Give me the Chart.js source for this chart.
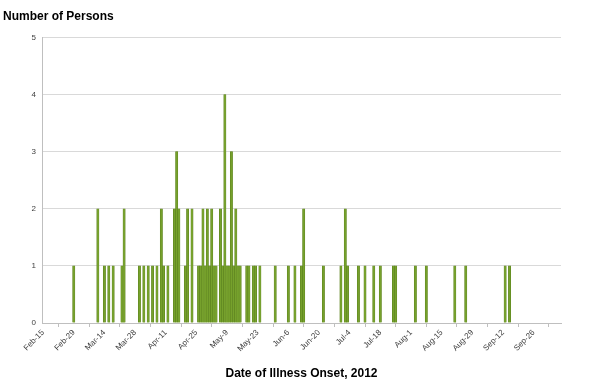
<!DOCTYPE html>
<html>
<head>
    <title>Date of Illness Onset, 2012</title>
    <script src="https://cdn.jsdelivr.net/npm/chart.js"></script>
    <style>
        body { margin: 0; background: #fff; }
        .chart-container { width: 600px; height: 389px; }
    </style>
</head>
<body>
    <div class="chart-container">
        <canvas id="onsetChart"></canvas>
    </div>
    <script>
        // days counted from Feb-15 (day 0), and persons with onset on that day
        const onsetDays = [14, 25, 28, 30, 32, 36, 37, 44, 46, 48, 50, 52, 54, 55, 57,
            60, 61, 62, 65, 66, 68, 71, 72, 73, 74, 75, 76, 77, 78, 79, 81, 82, 83, 84, 85,
            86, 87, 88, 89, 90, 93, 94, 96, 97, 99, 106, 112, 115, 118, 119, 128,
            136, 138, 139, 144, 147, 151, 154, 160, 161, 170, 175, 188, 193, 211, 213];
        const persons = [1, 2, 1, 1, 1, 1, 2, 1, 1, 1, 1, 1, 2, 1, 1,
            2, 3, 2, 1, 2, 2, 1, 1, 2, 1, 2, 1, 2, 1, 1, 2, 1, 4, 1, 1,
            3, 1, 2, 1, 1, 1, 1, 1, 1, 1, 1, 1, 1, 1, 2, 1,
            1, 2, 1, 1, 1, 1, 1, 1, 1, 1, 1, 1, 1, 1, 1];
        const tickDays = [0, 14, 28, 42, 56, 70, 84, 98, 112, 126, 140, 154, 168, 182, 196, 210, 224];
        const tickLabels = ['Feb-15', 'Feb-29', 'Mar-14', 'Mar-28', 'Apr-11', 'Apr-25', 'May-9',
            'May-23', 'Jun-6', 'Jun-20', 'Jul-4', 'Jul-18', 'Aug-1', 'Aug-15', 'Aug-29', 'Sep-12', 'Sep-26'];
        const yTicks = [0, 1, 2, 3, 4, 5];

        const points = onsetDays.map((d, i) => ({ x: d, y: persons[i] }));
        const font = 'Arial, "Liberation Sans", sans-serif';

        new Chart(document.getElementById('onsetChart'), {
            type: 'bar',
            data: {
                datasets: [{
                    data: points,
                    backgroundColor: '#76a12c',
                    borderColor: '#587d1c',
                    borderWidth: 0.5,
                    barThickness: 2.3
                }]
            },
            options: {
                responsive: true,
                maintainAspectRatio: false,
                animation: false,
                layout: { padding: { left: 3, right: 39, top: 0, bottom: 0 } },
                plugins: {
                    legend: { display: false },
                    tooltip: { enabled: false },
                    title: {
                        display: true,
                        text: 'Number of Persons',
                        align: 'start',
                        color: '#000',
                        font: { family: font, size: 12, weight: 'bold' },
                        padding: { top: 9, bottom: 14 }
                    }
                },
                scales: {
                    x: {
                        type: 'linear',
                        min: -0.5,
                        max: 236.5,
                        offset: false,
                        afterBuildTicks: axis => { axis.ticks = tickDays.map(v => ({ value: v })); },
                        afterFit: s => { s.height = 66; },
                        ticks: {
                            autoSkip: false,
                            minRotation: 45,
                            maxRotation: 45,
                            color: '#404040',
                            font: { family: font, size: 8 },
                            padding: 1,
                            callback: v => tickLabels[tickDays.indexOf(v)]
                        },
                        grid: {
                            drawOnChartArea: false,
                            drawTicks: true,
                            tickLength: 4,
                            color: '#bfbfbf'
                        },
                        border: { color: '#bfbfbf' },
                        title: {
                            display: true,
                            text: 'Date of Illness Onset, 2012',
                            color: '#000',
                            font: { family: font, size: 12, weight: 'bold' },
                            padding: { top: 2, bottom: 8 }
                        }
                    },
                    y: {
                        min: 0,
                        max: 5,
                        afterFit: s => { s.width = 39; },
                        afterBuildTicks: axis => { axis.ticks = yTicks.map(v => ({ value: v })); },
                        ticks: {
                            color: '#404040',
                            font: { family: font, size: 8 },
                            padding: 6
                        },
                        grid: { color: '#d9d9d9', drawTicks: false },
                        border: { color: '#bfbfbf' }
                    }
                }
            }
        });
    </script>
</body>
</html>
